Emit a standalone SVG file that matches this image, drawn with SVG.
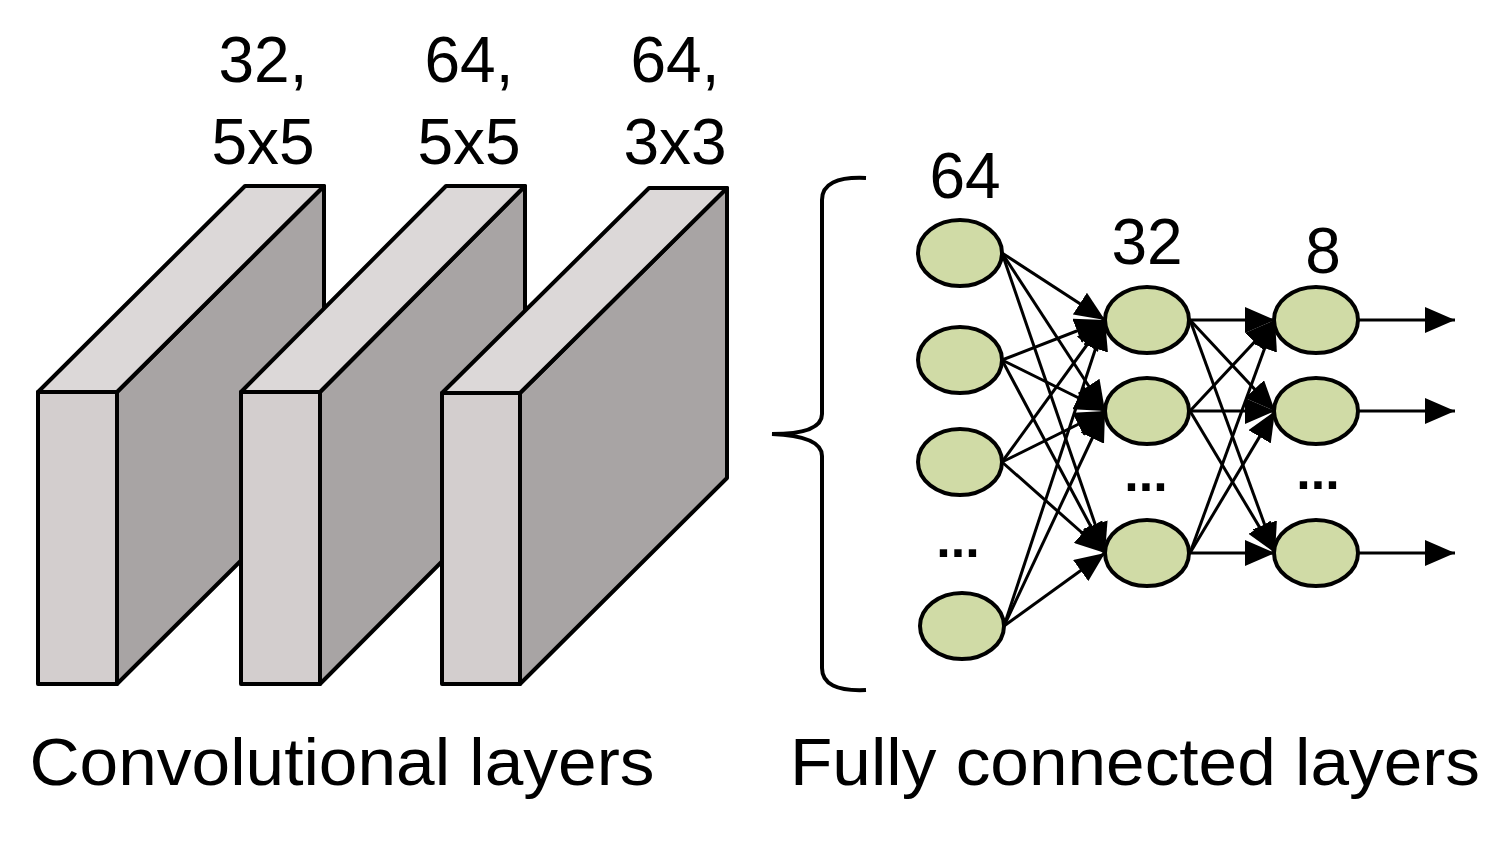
<svg xmlns="http://www.w3.org/2000/svg" width="1500" height="858" viewBox="0 0 1500 858">
<defs>
<marker id="ah" markerUnits="userSpaceOnUse" markerWidth="32" markerHeight="26" refX="30" refY="13" orient="auto"><path d="M0,0 L30,13 L0,26 Z" fill="#000"/></marker>
<style>
.front{fill:#d3cece;stroke:#000;stroke-width:4;stroke-linejoin:round}
.top{fill:#dcd8d8;stroke:#000;stroke-width:4;stroke-linejoin:round}
.side{fill:#a8a4a4;stroke:#000;stroke-width:4;stroke-linejoin:round}
.n{fill:#d0dba6;stroke:#000;stroke-width:4}
.e{stroke:#000;stroke-width:3;fill:none;marker-end:url(#ah)}
text{font-family:"Liberation Sans",Arial,sans-serif;fill:#000;text-anchor:middle}
.t{font-size:64px}
.d{font-size:52px;font-weight:bold}
</style>
</defs>
<rect width="1500" height="858" fill="#fff"/>
<g id="block1">
<polygon class="side" points="117,392 324,186 324,478 117,684"/>
<polygon class="top" points="38,392 245,186 324,186 117,392"/>
<rect class="front" x="38" y="392" width="79" height="292"/>
</g>
<g id="block2">
<polygon class="side" points="320,392 525,186 525,478 320,684"/>
<polygon class="top" points="241,392 446,186 525,186 320,392"/>
<rect class="front" x="241" y="392" width="79" height="292"/>
</g>
<g id="block3">
<polygon class="side" points="520,393 727,188 727,478 520,684"/>
<polygon class="top" points="442,393 649,188 727,188 520,393"/>
<rect class="front" x="442" y="393" width="78" height="291"/>
</g>
<g id="labels-conv">
<text class="t" x="263" y="82">32,</text><text class="t" x="263" y="164">5x5</text>
<text class="t" x="469" y="82">64,</text><text class="t" x="469" y="164">5x5</text>
<text class="t" x="675" y="82">64,</text><text class="t" x="675" y="164">3x3</text>
</g>
<g id="brace"><path d="M866,178 Q822,176 822,200 L822,414 Q822,434 772,434 Q822,436 822,456 L822,668 Q822,692 866,690" fill="none" stroke="#000" stroke-width="4"/></g>
<g id="connectors">
<line class="e" x1="1002" y1="253" x2="1105" y2="320"/>
<line class="e" x1="1002" y1="253" x2="1105" y2="411"/>
<line class="e" x1="1002" y1="253" x2="1105" y2="553"/>
<line class="e" x1="1002" y1="360" x2="1105" y2="320"/>
<line class="e" x1="1002" y1="360" x2="1105" y2="411"/>
<line class="e" x1="1002" y1="360" x2="1105" y2="553"/>
<line class="e" x1="1002" y1="462" x2="1105" y2="320"/>
<line class="e" x1="1002" y1="462" x2="1105" y2="411"/>
<line class="e" x1="1002" y1="462" x2="1105" y2="553"/>
<line class="e" x1="1004" y1="626" x2="1105" y2="320"/>
<line class="e" x1="1004" y1="626" x2="1105" y2="411"/>
<line class="e" x1="1004" y1="626" x2="1105" y2="553"/>
<line class="e" x1="1190" y1="320" x2="1275" y2="320"/>
<line class="e" x1="1190" y1="320" x2="1275" y2="411"/>
<line class="e" x1="1190" y1="320" x2="1275" y2="553"/>
<line class="e" x1="1190" y1="411" x2="1275" y2="320"/>
<line class="e" x1="1190" y1="411" x2="1275" y2="411"/>
<line class="e" x1="1190" y1="411" x2="1275" y2="553"/>
<line class="e" x1="1190" y1="553" x2="1275" y2="320"/>
<line class="e" x1="1190" y1="553" x2="1275" y2="411"/>
<line class="e" x1="1190" y1="553" x2="1275" y2="553"/>
<line class="e" x1="1359" y1="320" x2="1455" y2="320"/>
<line class="e" x1="1359" y1="411" x2="1455" y2="411"/>
<line class="e" x1="1359" y1="553" x2="1455" y2="553"/>
</g>
<g id="layer64">
<ellipse class="n" cx="960" cy="253" rx="42" ry="33"/>
<ellipse class="n" cx="960" cy="360" rx="42" ry="33"/>
<ellipse class="n" cx="960" cy="462" rx="42" ry="33"/>
<ellipse class="n" cx="962" cy="626" rx="42" ry="33"/>
<text class="t" x="965" y="198">64</text>
<text class="d" x="958" y="557">...</text>
</g>
<g id="layer32">
<ellipse class="n" cx="1147" cy="320" rx="42" ry="33"/>
<ellipse class="n" cx="1147" cy="411" rx="42" ry="33"/>
<ellipse class="n" cx="1147" cy="553" rx="42" ry="33"/>
<text class="t" x="1147" y="264">32</text>
<text class="d" x="1146" y="491">...</text>
</g>
<g id="layer8">
<ellipse class="n" cx="1316" cy="320" rx="42" ry="33"/>
<ellipse class="n" cx="1316" cy="411" rx="42" ry="33"/>
<ellipse class="n" cx="1316" cy="553" rx="42" ry="33"/>
<text class="t" x="1323" y="273">8</text>
<text class="d" x="1318" y="489">...</text>
</g>
<g id="captions">
<text x="342" y="785" style="font-size:66px" textLength="625" lengthAdjust="spacingAndGlyphs">Convolutional layers</text>
<text x="1135" y="785" style="font-size:66px" textLength="690" lengthAdjust="spacingAndGlyphs">Fully connected layers</text>
</g>
</svg>
